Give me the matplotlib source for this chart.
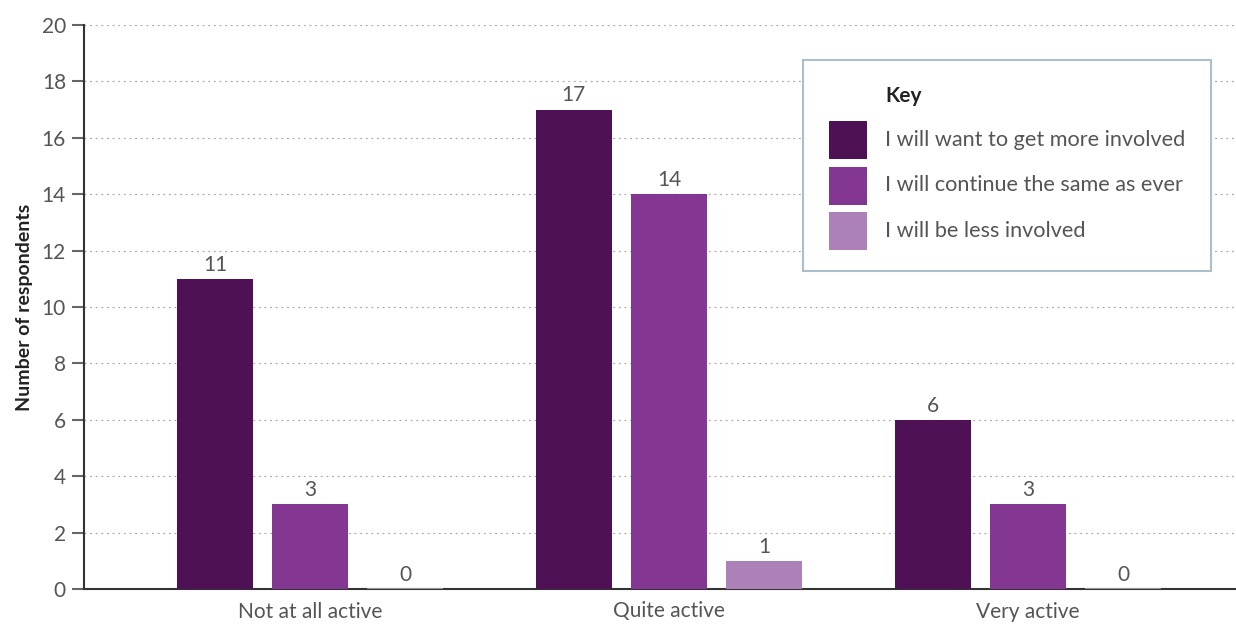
import matplotlib.pyplot as plt
import numpy as np
from matplotlib.patches import Rectangle

categories = ["Not at all active", "Quite active", "Very active"]
series_names = [
    "I will want to get more involved",
    "I will continue the same as ever",
    "I will be less involved",
]
more_involved = [11, 17, 6]
same_as_ever = [3, 14, 3]
less_involved = [0, 1, 0]
series_values = [more_involved, same_as_ever, less_involved]
colors = ["#4E1155", "#843792", "#AC81B7"]
y_ticks = [0, 2, 4, 6, 8, 10, 12, 14, 16, 18, 20]

plt.rcParams["font.family"] = ["Lato", "DejaVu Sans"]
text_grey = "#555555"

fig = plt.figure(figsize=(12.36, 6.24), dpi=100)
ax = fig.add_axes([84 / 1236, 1 - 589 / 624, 1 - 84 / 1236, 564 / 624])

x = np.arange(len(categories))
width = 0.212
step = 0.265
for i, (vals, col) in enumerate(zip(series_values, colors)):
    pos = x + (i - 1) * step
    for p, v in zip(pos, vals):
        if v == 0:
            ax.plot([p - width / 2, p + width / 2], [0, 0], color="#999999",
                    lw=1.5, zorder=3, solid_capstyle="butt")
        else:
            ax.bar(p, v, width, color=col, zorder=3, linewidth=0)
        ax.annotate(str(v), (p, v), xytext=(0, 3), textcoords="offset points",
                    ha="center", va="bottom", fontsize=15, color=text_grey)

ax.set_xlim(-0.63, 2.58)
ax.set_ylim(0, 20)
ax.set_yticks(y_ticks)
ax.set_xticks(x)
ax.set_xticklabels(categories)
ax.tick_params(axis="y", length=9, width=1.5, color="#666666", labelsize=15,
               labelcolor=text_grey, pad=4)
ax.tick_params(axis="x", length=0, labelsize=15, labelcolor=text_grey, pad=9)
ax.yaxis.grid(True, linestyle=(0, (1.5, 3)), color="#aaaaaa", lw=0.9, zorder=0)
ax.set_axisbelow(True)
for s in ["top", "right"]:
    ax.spines[s].set_visible(False)
ax.spines["left"].set_color("#333333")
ax.spines["left"].set_linewidth(1.5)
ax.spines["bottom"].set_color("#333333")
ax.spines["bottom"].set_linewidth(1.5)
ax.set_ylabel("Number of respondents", fontsize=14, fontweight="bold",
              color="#222222", labelpad=6)

# key box, drawn by hand in figure pixels
W, H = 1236, 624
def fx(px):
    return px / W
def fy(py):
    return 1 - py / H

fig.patches.append(Rectangle((fx(803), fy(271)), fx(1211) - fx(803), fy(60) - fy(271),
                             transform=fig.transFigure, facecolor="white",
                             edgecolor="#A9BFCB", lw=1.5, zorder=5))
fig.text(fx(885), fy(96), "Key", fontsize=15, fontweight="bold", color="#222222",
         va="center", ha="left", zorder=6)
for j, (name, col) in enumerate(zip(series_names, colors)):
    ty = 140 + j * 45.5
    fig.patches.append(Rectangle((fx(829), fy(ty + 19)), fx(867) - fx(829), fy(ty - 19) - fy(ty + 19),
                                 transform=fig.transFigure, facecolor=col,
                                 edgecolor="none", zorder=6))
    fig.text(fx(885), fy(ty), name, fontsize=15.6, color=text_grey,
             va="center", ha="left", zorder=6)

fig.savefig("out.png", dpi=100)
